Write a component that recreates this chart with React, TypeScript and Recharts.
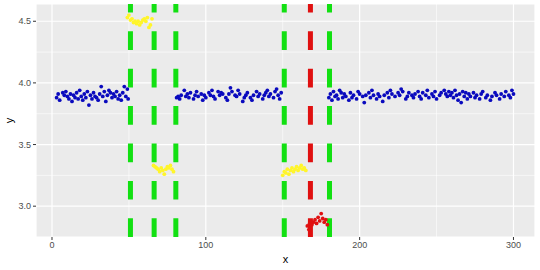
import React from 'react';
import { ScatterChart, Scatter, XAxis, YAxis, CartesianGrid, ReferenceLine } from 'recharts';

type Pt = [number, number];

const blueSeg1: Pt[] = [
  [3, 3.88], [4, 3.91], [5, 3.86], [7, 3.92], [8, 3.90], [9, 3.93], [10, 3.89], [11, 3.87], [12, 3.91],
  [13, 3.85], [14, 3.90], [15, 3.88], [16, 3.92], [17, 3.87], [18, 3.94], [19, 3.89], [20, 3.86],
  [21, 3.91], [22, 3.88], [23, 3.93], [24, 3.82], [25, 3.90], [26, 3.87], [27, 3.92], [28, 3.89],
  [29, 3.88], [30, 3.86], [31, 3.91], [32, 3.97], [33, 3.89], [34, 3.93], [35, 3.85], [36, 3.90],
  [37, 3.94], [38, 3.92], [39, 3.88], [40, 3.91], [41, 3.89], [42, 3.93], [43, 3.87], [44, 3.90],
  [45, 3.86], [46, 3.92], [47, 3.97], [48, 3.89], [49, 3.95], [49.5, 3.87],
];

const blueSeg2: Pt[] = [
  [81, 3.88], [82, 3.89], [83, 3.87], [84, 3.90], [86, 3.94], [87, 3.89], [88, 3.91], [89, 3.88],
  [90, 3.92], [92, 3.87], [93, 3.90], [94, 3.93], [95, 3.89], [97, 3.91], [98, 3.86], [99, 3.90],
  [100, 3.88], [102, 3.92], [103, 3.90], [104, 3.94], [105, 3.89], [106, 3.87], [108, 3.93],
  [109, 3.90], [110, 3.92], [111, 3.91], [113, 3.88], [114, 3.86], [115, 3.91], [116, 3.96],
  [117, 3.93], [119, 3.90], [120, 3.89], [121, 3.94], [122, 3.91], [124, 3.85], [125, 3.88],
  [126, 3.90], [127, 3.92], [129, 3.88], [130, 3.86], [131, 3.90], [133, 3.93], [134, 3.89],
  [135, 3.91], [137, 3.87], [138, 3.90], [139, 3.92], [140, 3.94], [141, 3.89], [142, 3.91],
  [144, 3.88], [145, 3.93], [146, 3.95], [147, 3.90], [148, 3.87], [149, 3.92],
];

const blueSeg3: Pt[] = [
  [180, 3.88], [181, 3.91], [182, 3.86], [183, 3.93], [184, 3.89], [185, 3.90], [186, 3.87],
  [187, 3.94], [188, 3.92], [189, 3.88], [190, 3.91], [191, 3.89], [193, 3.86], [194, 3.92],
  [195, 3.88], [196, 3.90], [198, 3.87], [199, 3.93], [200, 3.91], [202, 3.89], [203, 3.84],
  [204, 3.90], [206, 3.92], [207, 3.88], [208, 3.94], [209, 3.90], [211, 3.87], [212, 3.91],
  [213, 3.89], [215, 3.85], [216, 3.90], [218, 3.92], [219, 3.88], [220, 3.94], [221, 3.91],
  [223, 3.89], [225, 3.92], [226, 3.90], [227, 3.95], [228, 3.93], [230, 3.87], [231, 3.89],
  [232, 3.92], [234, 3.90], [235, 3.88], [236, 3.91], [238, 3.93], [239, 3.89], [240, 3.87],
  [241, 3.92], [243, 3.90], [244, 3.94], [245, 3.88], [247, 3.91], [248, 3.89], [249, 3.93],
  [250, 3.87], [252, 3.90], [253, 3.92], [255, 3.94], [256, 3.91], [257, 3.89], [258, 3.93],
  [259, 3.90], [260, 3.92], [261, 3.88], [262, 3.94], [263, 3.90], [264, 3.86], [265, 3.91],
  [266, 3.84], [267, 3.93], [268, 3.89], [269, 3.92], [270, 3.87], [271, 3.91], [272, 3.89],
  [274, 3.92], [275, 3.88], [276, 3.90], [278, 3.87], [279, 3.91], [280, 3.93], [282, 3.88],
  [283, 3.90], [285, 3.86], [286, 3.89], [288, 3.92], [289, 3.90], [291, 3.87], [292, 3.91],
  [294, 3.89], [295, 3.93], [297, 3.90], [298, 3.88], [299, 3.94], [300, 3.91],
];

const yellow1: Pt[] = [
  [49, 4.53], [50, 4.55], [51, 4.51], [52, 4.52], [53, 4.49], [54, 4.50], [55, 4.48], [56, 4.50],
  [57, 4.47], [58, 4.49], [59, 4.51], [60, 4.52], [61, 4.50], [62, 4.53], [63, 4.45], [64, 4.47], [65, 4.52],
];
const yellow2: Pt[] = [
  [66, 3.33], [67, 3.32], [68, 3.31], [69, 3.30], [70, 3.28], [71, 3.31], [72, 3.29], [73, 3.26],
  [74, 3.30], [75, 3.32], [76, 3.31], [77, 3.33], [78, 3.30], [79, 3.28],
];
const yellow3: Pt[] = [
  [150, 3.25], [151, 3.28], [152, 3.27], [153, 3.30], [154, 3.26], [155, 3.29], [156, 3.31],
  [157, 3.28], [158, 3.30], [159, 3.32], [160, 3.29], [161, 3.31], [162, 3.33], [163, 3.30],
  [164, 3.31], [165, 3.29],
];
const redPts: Pt[] = [
  [166, 2.84], [167, 2.81], [167.5, 2.86], [168, 2.88], [169, 2.85], [170, 2.87], [171, 2.89],
  [172, 2.86], [173, 2.91], [174, 2.88], [175, 2.94], [176, 2.90], [177, 2.87], [178, 2.89], [179, 2.85],
];

const greenLines = [51, 66.4, 80.5, 151, 180.4];
const redLines = [168];

const xTicks = [0, 100, 200, 300];
const yTicks = [3.0, 3.5, 4.0, 4.5];
const xMinor = [50, 150, 250];
const yMinor = [3.25, 3.75, 4.25];

const toObj = (arr: Pt[]) => arr.map(([x, y]) => ({ x, y }));
const blueData = toObj([...blueSeg1, ...blueSeg2, ...blueSeg3]);
const yellowData = toObj([...yellow1, ...yellow2, ...yellow3]);
const redData = toObj(redPts);

const dot = (color: string) => (props: any) => (
  <circle cx={props.cx} cy={props.cy} r={1.9} fill={color} />
);

const FONT = 'Liberation Sans, Arial, sans-serif';
const tickStyle = { fill: '#4D4D4D', fontSize: 9, fontFamily: FONT };

const YLabel = (props: any) => {
  const vb = props.viewBox || { x: 0, y: 4, width: 36, height: 233 };
  const cx = vb.x + 9;
  const cy = vb.y + vb.height / 2;
  return (
    <text
      x={cx}
      y={cy}
      transform={`rotate(-90, ${cx}, ${cy})`}
      textAnchor="middle"
      dominantBaseline="central"
      fill="#000"
      fontSize={11}
      fontFamily={FONT}
    >
      y
    </text>
  );
};

export default function App() {
  return (
    <div style={{ position: 'absolute', left: 0, top: 0, width: 540, height: 270, background: '#fff' }}>
      <ScatterChart width={540} height={270} margin={{ top: 4, right: 5, bottom: 0, left: 0 }}>
        <CartesianGrid fill="#EBEBEB" stroke="#FFFFFF" strokeWidth={1.2} />
        <XAxis
          type="number"
          dataKey="x"
          domain={[-10.4, 314]}
          ticks={xTicks}
          allowDataOverflow
          axisLine={false}
          tickLine={{ stroke: '#333333' }}
          tickSize={3}
          tickMargin={2}
          tick={tickStyle}
          height={33}
          label={{
            value: 'x',
            position: 'insideBottom',
            offset: 7,
            style: { fill: '#000', fontSize: 11, fontFamily: FONT },
          }}
        />
        <YAxis
          type="number"
          dataKey="y"
          domain={[2.75, 4.64]}
          ticks={yTicks}
          allowDataOverflow
          axisLine={false}
          tickLine={{ stroke: '#333333' }}
          tickSize={3}
          tickMargin={2}
          tick={tickStyle}
          width={36}
          tickFormatter={(v: number) => v.toFixed(1)}
          label={{ content: <YLabel /> }}
        />
        {xMinor.map((v) => (
          <ReferenceLine key={`mx${v}`} x={v} stroke="#FFFFFF" strokeWidth={0.6} />
        ))}
        {yMinor.map((v) => (
          <ReferenceLine key={`my${v}`} y={v} stroke="#FFFFFF" strokeWidth={0.6} />
        ))}
        {greenLines.map((v) => (
          <ReferenceLine key={`g${v}`} x={v} stroke="#12E012" strokeWidth={5} strokeDasharray="18.7 18.7" />
        ))}
        {redLines.map((v) => (
          <ReferenceLine key={`r${v}`} x={v} stroke="#E01010" strokeWidth={5} strokeDasharray="18.7 18.7" />
        ))}
        <Scatter data={blueData} shape={dot('#0A0ABE')} isAnimationActive={false} />
        <Scatter data={yellowData} shape={dot('#FFF52A')} isAnimationActive={false} />
        <Scatter data={redData} shape={dot('#E01010')} isAnimationActive={false} />
      </ScatterChart>
    </div>
  );
}
